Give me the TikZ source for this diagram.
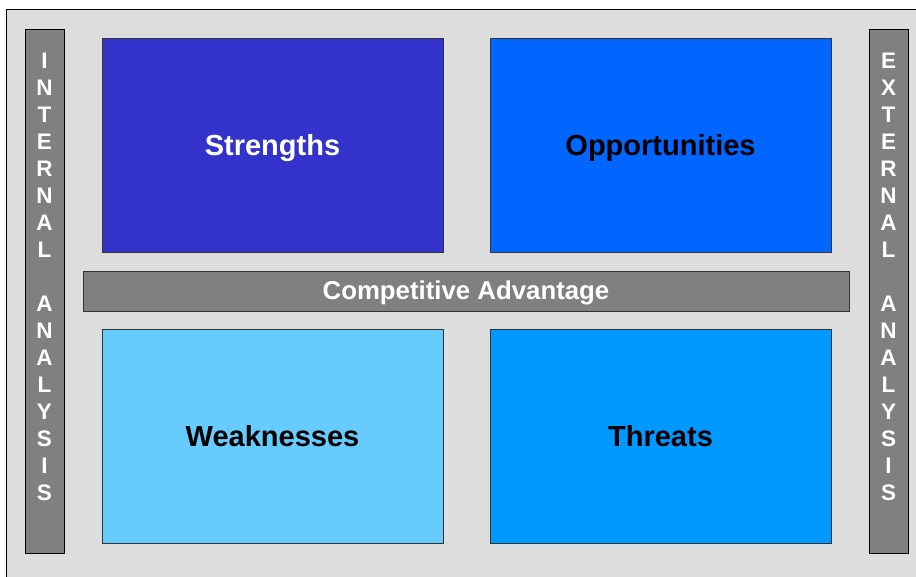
\documentclass[tikz,border=0pt]{standalone}
\usepackage{fontspec}
\setmainfont{Liberation Sans}
\definecolor{panelgray}{HTML}{DDDDDD}
\definecolor{bargray}{HTML}{808080}
\definecolor{strcol}{HTML}{3333CC}
\definecolor{oppcol}{HTML}{0066FF}
\definecolor{weakcol}{HTML}{66CCFF}
\definecolor{thrcol}{HTML}{0099FF}
\begin{document}
\begin{tikzpicture}[x=1pt,y=-1pt,
    swotbox/.style={draw=black!80,line width=0.8pt,minimum width=341pt,minimum height=214pt,inner sep=0pt,text height=20pt,text depth=0pt,font=\fontsize{29}{30}\selectfont\bfseries},
    sidebar/.style={draw=black,line width=0.8pt,fill=bargray,minimum width=39pt,minimum height=524pt,inner sep=0pt},
    sidetext/.style={align=center,text=white,inner sep=0pt,font=\fontsize{22.5}{27}\selectfont\bfseries}]
    \useasboundingbox (0,0) rectangle (916,576);
    \draw[fill=panelgray,line width=0.8pt] (6,9) rectangle (930,590);
    \node[sidebar] (internal) at (44.5,291) {};
    \node[sidebar] (external) at (888.5,291) {};
    \node[sidetext] (internaltext) at ([yshift=14pt]internal.center) {I\\N\\T\\E\\R\\N\\A\\L\\[27pt]A\\N\\A\\L\\Y\\S\\I\\S};
    \node[sidetext] (externaltext) at ([yshift=14pt]external.center) {E\\X\\T\\E\\R\\N\\A\\L\\[27pt]A\\N\\A\\L\\Y\\S\\I\\S};
    \node[swotbox,fill=strcol,text=white] (strengths) at (272.5,145) {Strengths};
    \node[swotbox,fill=oppcol] (opportunities) at (660.5,145) {Opportunities};
    \node[swotbox,fill=weakcol] (weaknesses) at (272.5,436) {Weaknesses};
    \node[swotbox,fill=thrcol] (threats) at (660.5,436) {Threats};
    \node[draw=black!80,line width=0.8pt,fill=bargray,minimum width=766pt,minimum height=40pt,inner sep=0pt,text height=17pt,text depth=0pt,text=white,font=\fontsize{25.8}{28}\selectfont\bfseries] (advantage) at (466,291) {Competitive Advantage};
\end{tikzpicture}
\end{document}
